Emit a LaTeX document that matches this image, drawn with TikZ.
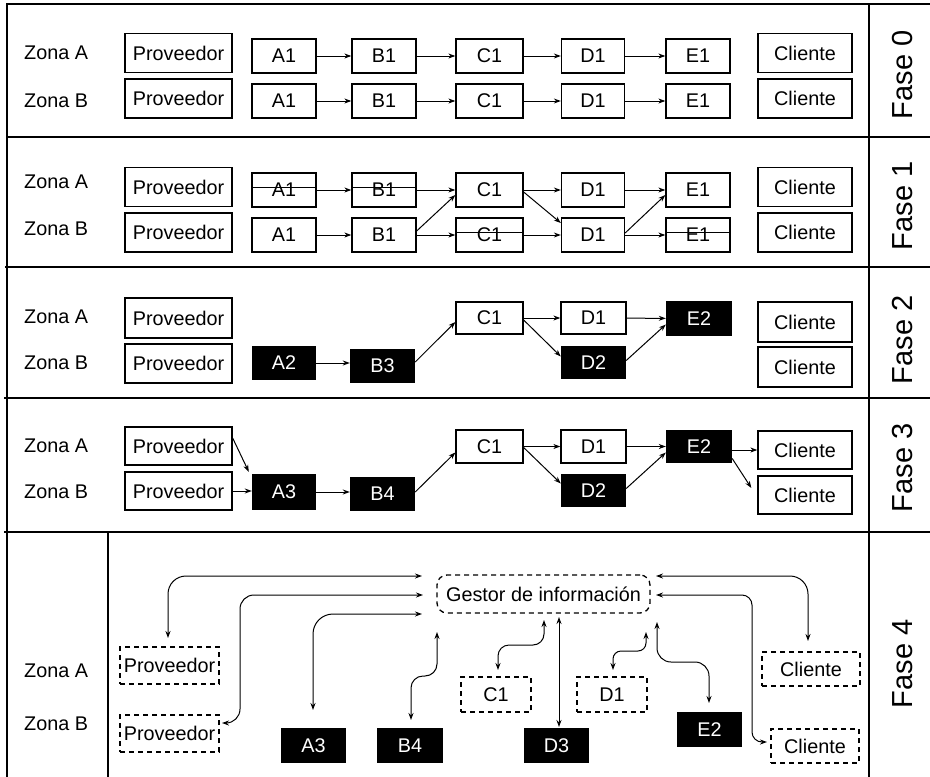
\documentclass[tikz,border=0pt]{standalone}
\usepackage{fontspec}
\setmainfont{Liberation Sans}
\usetikzlibrary{arrows.meta}
\begin{document}
\begin{tikzpicture}[x=1pt,y=-1pt,
 txt/.style={font=\fontsize{19.8}{23}\selectfont, inner sep=0pt},
 wbox/.style={txt, draw, line width=1.3pt, fill=white},
 bbox/.style={txt, fill=black, text=white},
 dbox/.style={txt, draw, line width=1.3pt, dash pattern=on 5pt off 4pt},
 sz/.style 2 args={minimum width=#1pt, minimum height=#2pt},
 arr/.style={line width=1pt, -{Stealth[length=7pt,width=5pt]}},
 darr/.style={line width=1pt, rounded corners=#1, {Stealth[length=7pt,width=5pt]}-{Stealth[length=7pt,width=5pt]}},
 darr/.default=14pt,
 frame/.style={line width=1.6pt},
 fase/.style={font=\fontsize{29}{33}\selectfont, rotate=90, inner sep=0pt},
 zona/.style={txt, anchor=base west},
 strike/.style={line width=1pt}]
\useasboundingbox (0,0) rectangle (930,777);
% frame
\draw[frame] (7,777) -- (7,4) -- (930,4);
\draw[frame] (869,4) -- (869,777);
\draw[frame] (7,137) -- (930,137);
\draw[frame] (5,267) -- (930,267);
\draw[frame] (4,398) -- (930,398);
\draw[frame] (4,532) -- (930,532);
\draw[frame] (108,532) -- (108,777);
% fase labels
\node[fase] (f0) at (903,75) {Fase 0};
\node[fase] (f1) at (903,206) {Fase 1};
\node[fase] (f2) at (903,340) {Fase 2};
\node[fase] (f3) at (903,468) {Fase 3};
\node[fase] (f4) at (903,664) {Fase 4};
% zona labels
\node[zona] (z0a) at (24,59) {Zona A};
\node[zona] (z0b) at (24,107) {Zona B};
\node[zona] (z1a) at (24,188) {Zona A};
\node[zona] (z1b) at (24,235) {Zona B};
\node[zona] (z2a) at (24,323) {Zona A};
\node[zona] (z2b) at (24,369) {Zona B};
\node[zona] (z3a) at (24,452) {Zona A};
\node[zona] (z3b) at (24,498) {Zona B};
\node[zona] (z4a) at (24,677) {Zona A};
\node[zona] (z4b) at (24,730) {Zona B};
% fase 0 and fase 1 rows
\foreach \f/\r/\yb/\yp in {0/a/56/53, 0/b/101/98.5, 1/a/190/187, 1/b/235/232.5} {
  \node[wbox, sz={107}{39}] (p\f\r) at (178.5,\yp) {Proveedor};
  \node[wbox, sz={64}{34}] (a\f\r) at (284,\yb) {A1};
  \node[wbox, sz={64}{34}] (b\f\r) at (384,\yb) {B1};
  \node[wbox, sz={67}{34}] (c\f\r) at (489.5,\yb) {C1};
  \node[wbox, sz={63}{34}] (d\f\r) at (593,\yb) {D1};
  \node[wbox, sz={64}{34}] (e\f\r) at (698,\yb) {E1};
  \node[wbox, sz={94}{39}] (k\f\r) at (805,\yp) {Cliente};
}
\foreach \r in {a,b} {
  \draw[arr] (a0\r) -- (b0\r);
  \draw[arr] (b0\r) -- (c0\r);
  \draw[arr] (c0\r) -- (d0\r);
  \draw[arr] (d0\r) -- (e0\r);
}
% fase 1 arrows
\draw[arr] (a1a) -- (b1a);
\draw[arr] (b1a) -- (c1a);
\draw[arr] ([yshift=4pt]b1b.east) -- ([yshift=-5pt]c1a.west);
\draw[arr] (a1b) -- (b1b);
\draw[arr] (b1b) -- (c1b);
\draw[arr] (c1a) -- (d1a);
\draw[arr] ([yshift=-2pt]c1a.east) -- ([yshift=12pt]d1b.west);
\draw[arr] (c1b) -- (d1b);
\draw[arr] (d1a) -- (e1a);
\draw[arr] ([yshift=2pt]d1b.east) -- ([yshift=-5pt]e1a.west);
\draw[arr] (d1b) -- (e1b);
\foreach \n in {a1a,b1a,c1b,e1b}
  \draw[strike] ([yshift=3pt]\n.west) -- ([yshift=3pt]\n.east);
% fase 2
\node[wbox, sz={107}{40}] (p2a) at (178.5,318) {Proveedor};
\node[wbox, sz={107}{39}] (p2b) at (178.5,363.5) {Proveedor};
\node[bbox, sz={64}{34}] (a2) at (284,363) {A2};
\node[bbox, sz={65}{34}] (b2) at (382.5,366) {B3};
\node[wbox, sz={67}{32}] (c2) at (489.5,318) {C1};
\node[wbox, sz={65}{32}] (d2a) at (593.5,318) {D1};
\node[bbox, sz={65}{33}] (d2b) at (593.5,362.5) {D2};
\node[bbox, sz={66}{35}] (e2) at (699,318.5) {E2};
\node[wbox, sz={94}{40}] (k2a) at (805,322) {Cliente};
\node[wbox, sz={94}{40}] (k2b) at (805,367) {Cliente};
\draw[arr] (a2.east) -- (a2.east -| b2.west);
\draw[arr] ([yshift=4pt]b2.east) -- ([yshift=-4pt]c2.west);
\draw[arr] (c2) -- (d2a);
\draw[arr] ([yshift=-2pt]c2.east) -- ([yshift=6pt]d2b.west);
\draw[arr] (d2a) -- (e2);
\draw[arr] ([yshift=2pt]d2b.east) -- ([yshift=-6pt]e2.west);
% fase 3
\node[wbox, sz={107}{38}] (p3a) at (178.5,446) {Proveedor};
\node[wbox, sz={107}{38}] (p3b) at (178.5,491) {Proveedor};
\node[bbox, sz={64}{36}] (a3) at (284,492) {A3};
\node[bbox, sz={65}{34}] (b3) at (382.5,494) {B4};
\node[wbox, sz={67}{33}] (c3) at (489.5,446.5) {C1};
\node[wbox, sz={65}{33}] (d3a) at (593.5,446.5) {D1};
\node[bbox, sz={65}{33}] (d3b) at (593.5,490.5) {D2};
\node[bbox, sz={66}{33}] (e3) at (699,446.5) {E2};
\node[wbox, sz={94}{38}] (k3a) at (805,450) {Cliente};
\node[wbox, sz={94}{38}] (k3b) at (805,495) {Cliente};
\draw[arr] ([yshift=8pt]p3a.east) -- ([xshift=-3pt,yshift=2pt]a3.north west);
\draw[arr] (p3b.east) -- (p3b.east -| a3.west);
\draw[arr] (a3.east) -- (a3.east -| b3.west);
\draw[arr] ([yshift=2pt]b3.east) -- ([yshift=-6pt]c3.west);
\draw[arr] (c3) -- (d3a);
\draw[arr] ([yshift=-1pt]c3.east) -- ([yshift=7pt]d3b.west);
\draw[arr] (d3a) -- (e3);
\draw[arr] ([yshift=2pt]d3b.east) -- ([yshift=-6pt]e3.west);
\draw[arr] (e3.east |- k3a.west) -- (k3a.west);
\draw[arr] ([yshift=-12pt]e3.east) -- ([xshift=-6pt,yshift=7pt]k3b.west);
% fase 4
\node[dbox, sz={99}{37}] (p4a) at (169.5,665.5) {Proveedor};
\node[dbox, sz={99}{37}] (p4b) at (169.5,733.5) {Proveedor};
\node[dbox, sz={213}{38}, rounded corners=10pt] (g) at (543.5,594) {Gestor de información};
\node[bbox, sz={65}{35}] (a4) at (313.5,745.5) {A3};
\node[bbox, sz={66}{35}] (b4) at (410,745.5) {B4};
\node[dbox, sz={70}{35}] (c4) at (496,694.5) {C1};
\node[dbox, sz={70}{35}] (d4) at (612,694.5) {D1};
\node[bbox, sz={65}{35}] (d4b) at (556.5,745.5) {D3};
\node[bbox, sz={65}{35}] (e4) at (709.5,729.5) {E2};
\node[dbox, sz={98}{34}] (k4a) at (811,669) {Cliente};
\node[dbox, sz={88}{34}] (k4b) at (815,746) {Cliente};
% free ends near the gestor and the boxes
\coordinate (gpa) at (422,576);  \coordinate (epa) at (168,638);
\coordinate (gpb) at (423,595);  \coordinate (epb) at (222,723);
\coordinate (ga3) at (422,614);  \coordinate (ea3) at (313,710);
\coordinate (gb4) at (437,632);  \coordinate (eb4) at (411,720);
\coordinate (gc1) at (544,620);  \coordinate (ec1) at (498,670);
\coordinate (gd3) at (559,617);  \coordinate (ed3) at (559,727);
\coordinate (gd1) at (646,632);  \coordinate (ed1) at (613,670);
\coordinate (ge2) at (657,622);  \coordinate (ee2) at (709,703);
\coordinate (gka) at (656,576);  \coordinate (eka) at (808,641);
\coordinate (gkb) at (656,595);  \coordinate (ekb) at (767,742);
\draw[darr=18pt] (gpa) -- (epa |- gpa) -- (epa);
\draw[darr=14pt] (gpb) -- (240,595) -- (240,723) -- (epb);
\draw[darr=20pt] (ga3) -- (ea3 |- ga3) -- (ea3);
\draw[darr=12pt] (gb4) -- (437,676) -- (411,676) -- (eb4);
\draw[darr=11pt] (gc1) -- (544,645) -- (498,645) -- (ec1);
\draw[darr=0pt] (gd3) -- (ed3);
\draw[darr=8pt] (gd1) -- (646,651) -- (613,651) -- (ed1);
\draw[darr=14pt] (ge2) -- (657,662) -- (709,662) -- (ee2);
\draw[darr=18pt] (gka) -- (eka |- gka) -- (eka);
\draw[darr=10pt] (gkb) -- (752,595) -- (752,742) -- (ekb);
\end{tikzpicture}
\end{document}
